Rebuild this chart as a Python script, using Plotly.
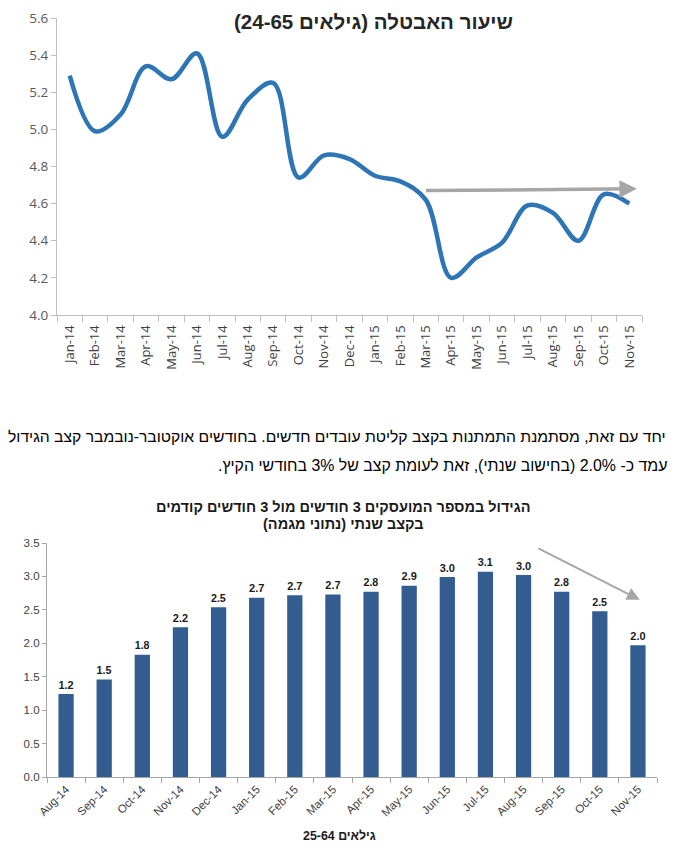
import plotly.graph_objects as go

# ---- Top chart data: unemployment rate (ages 24-65)
months_top = ["Jan-14", "Feb-14", "Mar-14", "Apr-14", "May-14", "Jun-14", "Jul-14", "Aug-14",
              "Sep-14", "Oct-14", "Nov-14", "Dec-14", "Jan-15", "Feb-15", "Mar-15", "Apr-15",
              "May-15", "Jun-15", "Jul-15", "Aug-15", "Sep-15", "Oct-15", "Nov-15"]
unemployment = [5.29, 4.99, 5.08, 5.34, 5.27, 5.41, 4.96, 5.16, 5.25, 4.74, 4.86, 4.84,
                4.75, 4.72, 4.62, 4.20, 4.31, 4.39, 4.59, 4.55, 4.40, 4.65, 4.60]
top_yticks = [4.0, 4.2, 4.4, 4.6, 4.8, 5.0, 5.2, 5.4, 5.6]

# ---- Bottom chart data: employment growth (3m vs previous 3m, annualized)
months_bot = ["Aug-14", "Sep-14", "Oct-14", "Nov-14", "Dec-14", "Jan-15", "Feb-15", "Mar-15",
              "Apr-15", "May-15", "Jun-15", "Jul-15", "Aug-15", "Sep-15", "Oct-15", "Nov-15"]
growth = [1.24, 1.46, 1.83, 2.24, 2.54, 2.68, 2.72, 2.73, 2.77, 2.86, 2.99, 3.07, 3.02, 2.77, 2.48, 1.97]
bot_yticks = [0.0, 0.5, 1.0, 1.5, 2.0, 2.5, 3.0, 3.5]

title_top = "שיעור האבטלה (גילאים 24-65)"
title_bot_1 = "הגידול במספר המועסקים 3 חודשים מול 3 חודשים קודמים"
title_bot_2 = "בקצב שנתי (נתוני מגמה)"
para_1 = "יחד עם זאת, מסתמנת התמתנות בקצב קליטת עובדים חדשים. בחודשים אוקטובר-נובמבר קצב הגידול"
para_2 = "עמד כ- 2.0% (בחישוב שנתי), זאת לעומת קצב של 3% בחודשי הקיץ."
xtitle_bot = "גילאים 25-64"


def rtl(s):
    return "\u200f" + s + "\u200f"


FONT = "Liberation Sans, Arial, sans-serif"
TICKFONT = "Open Sans, Liberation Sans, sans-serif"
W, H = 675, 856

fig = go.Figure()

fig.add_trace(go.Scatter(
    x=months_top, y=unemployment, mode="lines",
    line=dict(color="#2E75B6", width=4.5, shape="spline", smoothing=1.0),
    xaxis="x", yaxis="y", showlegend=False, hoverinfo="x+y",
))

fig.add_trace(go.Bar(
    x=months_bot, y=growth, marker=dict(color="#335C90", line=dict(width=0)),
    texttemplate="%{y:.1f}", textposition="outside", cliponaxis=False,
    textfont=dict(family=FONT, size=13.5, color="#1a1a1a", weight="bold"),
    xaxis="x2", yaxis="y2", showlegend=False,
))

axis_gray = "#BFBFBF"

fig.update_layout(
    width=W, height=H,
    margin=dict(l=0, r=0, t=0, b=0),
    paper_bgcolor="white", plot_bgcolor="white",
    font=dict(family=FONT),
    bargap=0.6,
    xaxis=dict(
        domain=[57 / W, 642 / W], anchor="y", type="category", range=[-0.5, 22.5],
        automargin=False,
        showline=True, linecolor=axis_gray, linewidth=1.2,
        ticks="outside", tickson="boundaries", ticklen=6, tickcolor=axis_gray,
        ticklabelstandoff=4,
        tickangle=-90, tickfont=dict(family=TICKFONT, size=13, color="#404040"),
        showgrid=False, zeroline=False,
    ),
    yaxis=dict(
        domain=[1 - 315 / H, 1 - 18 / H], anchor="x", range=[4.0, 5.6],
        automargin=False,
        tickvals=top_yticks, ticktext=[f"{v:.1f}" for v in top_yticks],
        showline=True, linecolor=axis_gray, linewidth=1.2,
        ticks="outside", ticklen=5, tickcolor=axis_gray,
        tickfont=dict(family=TICKFONT, size=13.5, color="#595959"),
        showgrid=False, zeroline=False,
    ),
    xaxis2=dict(
        domain=[47 / W, 657 / W], anchor="y2", type="category", range=[-0.5, 15.5],
        automargin=False,
        showline=True, linecolor="#A6A6A6", linewidth=1.2,
        ticks="outside", tickson="boundaries", ticklen=5, tickcolor="#A6A6A6",
        tickangle=-45, tickfont=dict(size=11.5, color="#404040"),
        showgrid=False, zeroline=False,
    ),
    yaxis2=dict(
        domain=[1 - 777 / H, 1 - 543 / H], anchor="x2", range=[0, 3.5],
        automargin=False,
        tickvals=bot_yticks, ticktext=[f"{v:.1f}" for v in bot_yticks],
        showline=True, linecolor="#A6A6A6", linewidth=1.2,
        ticks="outside", ticklen=4, tickcolor="#A6A6A6",
        tickfont=dict(size=11.5, color="#404040"),
        showgrid=False, zeroline=False,
    ),
)

annotations = [
    dict(text=rtl(title_top), x=373 / W, y=1 - 22 / H, xref="paper", yref="paper",
         xanchor="center", yanchor="middle", showarrow=False,
         font=dict(family=FONT, size=20.5, color="#262626", weight="bold")),
    dict(text=rtl(para_1), x=668 / W, y=1 - 437 / H, xref="paper", yref="paper",
         xanchor="right", yanchor="middle", showarrow=False,
         font=dict(family=FONT, size=15.7, color="#000000")),
    dict(text=rtl(para_2), x=669 / W, y=1 - 465 / H, xref="paper", yref="paper",
         xanchor="right", yanchor="middle", showarrow=False,
         font=dict(family=FONT, size=15.9, color="#000000")),
    dict(text=rtl(title_bot_1), x=343 / W, y=1 - 507 / H, xref="paper", yref="paper",
         xanchor="center", yanchor="middle", showarrow=False,
         font=dict(family=FONT, size=14.5, color="#1a1a1a", weight="bold")),
    dict(text=rtl(title_bot_2), x=343 / W, y=1 - 524 / H, xref="paper", yref="paper",
         xanchor="center", yanchor="middle", showarrow=False,
         font=dict(family=FONT, size=14.5, color="#1a1a1a", weight="bold")),
    dict(text=rtl(xtitle_bot), x=340 / W, y=1 - 836 / H, xref="paper", yref="paper",
         xanchor="center", yanchor="middle", showarrow=False,
         font=dict(family=FONT, size=12.4, color="#1a1a1a", weight="bold")),
    # top chart horizontal trend arrow
    dict(x=22.3, y=4.68, ax=13.95, ay=4.67, xref="x", yref="y", axref="x", ayref="y",
         text="", showarrow=True, arrowhead=2, arrowsize=1.0, arrowwidth=3.5,
         arrowcolor="#A6A6A6"),
    # bottom chart downward trend arrow
    dict(x=15.05, y=2.65, ax=12.35, ay=3.43, xref="x2", yref="y2", axref="x2", ayref="y2",
         text="", showarrow=True, arrowhead=2, arrowsize=1.3, arrowwidth=2,
         arrowcolor="#A6A6A6"),
]
fig.update_layout(annotations=annotations)

fig.write_html(
    "out.html",
    config={"displayModeBar": False},
    post_script="document.body.style.margin='0';document.body.style.overflow='hidden';",
)
